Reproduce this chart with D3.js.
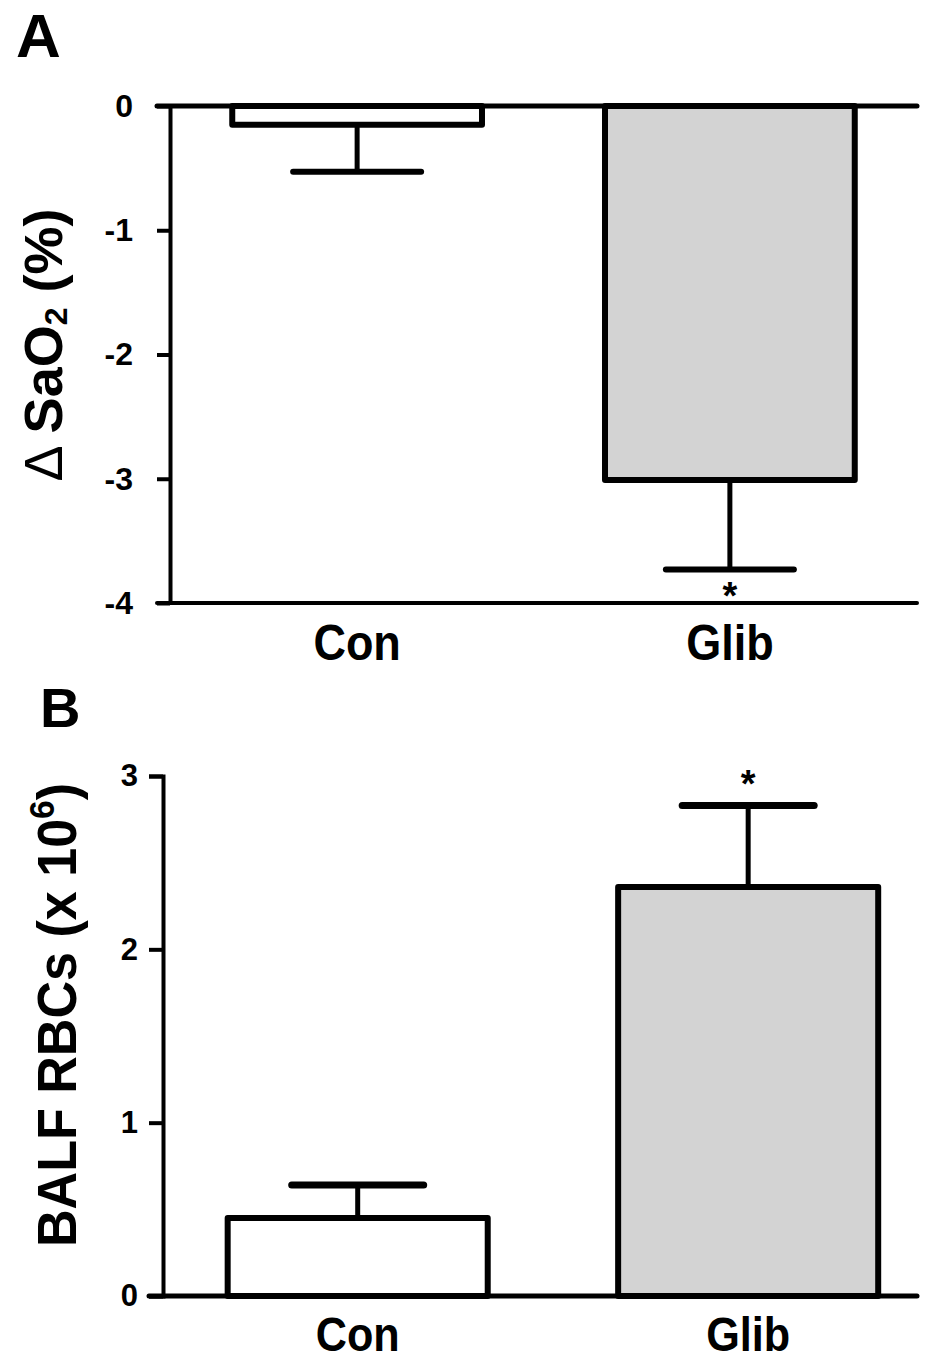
<!DOCTYPE html>
<html>
<head>
<meta charset="utf-8">
<script src="https://cdn.jsdelivr.net/npm/d3@7"></script>
<style>
  body { margin: 0; background: #fff; }
  text { font-family: "Liberation Sans", Arial, sans-serif; }
</style>
</head>
<body>
<svg id="chart" width="938" height="1361"></svg>
<script>
// data
const groups = ["Con", "Glib"];
const saO2Mean = [-0.15, -3.01];
const saO2Err = [0.38, 0.72];
const rbcMean = [0.45, 2.36];
const rbcErr = [0.19, 0.47];
const saO2Ticks = [0, -1, -2, -3, -4];
const rbcTicks = [0, 1, 2, 3];
const barFill = ["#ffffff", "#d3d3d3"];

const svg = d3.select("#chart");

// ---------- panel A ----------
const xA = d3.scaleBand().domain(groups).range([170, 917])
  .paddingInner(0.33).paddingOuter(0.167);
const yA = d3.scaleLinear().domain([-4, 0]).range([603, 106]);

const gA = svg.append("g");

gA.selectAll("rect.bar")
  .data(groups)
  .enter()
  .append("rect")
  .attr("class", "bar")
  .attr("x", d => xA(d))
  .attr("width", xA.bandwidth())
  .attr("y", yA(0))
  .attr("height", (d, i) => yA(saO2Mean[i]) - yA(0))
  .style("fill", (d, i) => barFill[i])
  .style("stroke", "#000")
  .style("stroke-width", 6)
  .style("stroke-linejoin", "round");

// error bars (downwards)
groups.forEach((g, i) => {
  const cx = xA(g) + xA.bandwidth() / 2;
  const lo = saO2Mean[i] - saO2Err[i];
  gA.append("line")
    .attr("x1", cx).attr("x2", cx)
    .attr("y1", yA(saO2Mean[i])).attr("y2", yA(lo))
    .style("stroke", "#000").style("stroke-width", 5);
  gA.append("line")
    .attr("x1", cx - 64).attr("x2", cx + 64)
    .attr("y1", yA(lo)).attr("y2", yA(lo))
    .style("stroke", "#000").style("stroke-width", 6)
    .style("stroke-linecap", "round");
});

// star under Glib
gA.append("text")
  .attr("x", xA("Glib") + xA.bandwidth() / 2)
  .attr("y", 609)
  .attr("text-anchor", "middle")
  .style("font-size", "38px")
  .style("font-weight", "bold")
  .text("*");

// y axis
const axA = gA.append("g")
  .attr("transform", "translate(170,0)")
  .attr("font-size", 32)
  .call(d3.axisLeft(yA).tickValues(saO2Ticks).tickSize(13).tickSizeOuter(0).tickPadding(24)
    .tickFormat(d3.format("d")));
axA.attr("font-size", null);
axA.select(".domain").style("stroke-width", 4);
axA.selectAll(".tick line").style("stroke-width", 4);
axA.selectAll(".tick text")
  .attr("font-size", 32)
  .style("font-size", "32px")
  .style("font-weight", "bold")
  .style("fill", "#000")
  .text(d => d === 0 ? "0" : "-" + Math.abs(d));

// horizontal lines at 0 and -4
gA.append("line")
  .attr("x1", 157).attr("x2", 917)
  .attr("y1", yA(0)).attr("y2", yA(0))
  .style("stroke", "#000").style("stroke-width", 5).style("stroke-linecap", "round");
gA.append("line")
  .attr("x1", 157).attr("x2", 917)
  .attr("y1", yA(-4)).attr("y2", yA(-4))
  .style("stroke", "#000").style("stroke-width", 4).style("stroke-linecap", "round");

// category labels
gA.selectAll("text.cat")
  .data(groups)
  .enter()
  .append("text")
  .attr("class", "cat")
  .attr("transform", d => `translate(${xA(d) + xA.bandwidth() / 2},660) scale(0.9,1)`)
  .attr("text-anchor", "middle")
  .style("font-size", "50px")
  .style("font-weight", "bold")
  .text(d => d);

// y label
const labA = gA.append("text")
  .attr("transform", "translate(62,345) rotate(-90)")
  .attr("text-anchor", "middle")
  .style("font-size", "54px")
  .style("font-weight", "bold");
labA.append("tspan").style("font-weight", "normal").text("\u0394 ");
labA.append("tspan").text("SaO");
labA.append("tspan").attr("dy", 5).style("font-size", "32px").text("2");
labA.append("tspan").attr("dy", -5).text(" (%)");

gA.append("text")
  .attr("x", 16).attr("y", 57)
  .style("font-size", "62px")
  .style("font-weight", "bold")
  .text("A");

// ---------- panel B ----------
const xB = d3.scaleBand().domain(groups).range([163, 917])
  .paddingInner(0.334).paddingOuter(0.1325).align(0.625);
const yB = d3.scaleLinear().domain([0, 3]).range([1296, 776]);

const gB = svg.append("g");

gB.selectAll("rect.bar")
  .data(groups)
  .enter()
  .append("rect")
  .attr("class", "bar")
  .attr("x", d => xB(d))
  .attr("width", xB.bandwidth())
  .attr("y", (d, i) => yB(rbcMean[i]))
  .attr("height", (d, i) => yB(0) - yB(rbcMean[i]))
  .style("fill", (d, i) => barFill[i])
  .style("stroke", "#000")
  .style("stroke-width", 6)
  .style("stroke-linejoin", "round");

groups.forEach((g, i) => {
  const cx = xB(g) + xB.bandwidth() / 2;
  const hi = rbcMean[i] + rbcErr[i];
  gB.append("line")
    .attr("x1", cx).attr("x2", cx)
    .attr("y1", yB(rbcMean[i])).attr("y2", yB(hi))
    .style("stroke", "#000").style("stroke-width", 5);
  gB.append("line")
    .attr("x1", cx - 66).attr("x2", cx + 66)
    .attr("y1", yB(hi)).attr("y2", yB(hi))
    .style("stroke", "#000").style("stroke-width", 7)
    .style("stroke-linecap", "round");
});

gB.append("text")
  .attr("x", xB("Glib") + xB.bandwidth() / 2)
  .attr("y", 797)
  .attr("text-anchor", "middle")
  .style("font-size", "38px")
  .style("font-weight", "bold")
  .text("*");

const axB = gB.append("g")
  .attr("transform", "translate(163,0)")
  .call(d3.axisLeft(yB).tickValues(rbcTicks).tickSize(14).tickSizeOuter(14).tickPadding(11)
    .tickFormat(d3.format("d")));
axB.attr("font-size", null);
axB.select(".domain").style("stroke-width", 4);
axB.selectAll(".tick line").style("stroke-width", 4);
axB.selectAll(".tick text")
  .attr("font-size", 31)
  .style("font-size", "31px")
  .style("font-weight", "bold")
  .style("fill", "#000");

gB.append("line")
  .attr("x1", 149).attr("x2", 917)
  .attr("y1", yB(0)).attr("y2", yB(0))
  .style("stroke", "#000").style("stroke-width", 5).style("stroke-linecap", "round");

gB.selectAll("text.cat")
  .data(groups)
  .enter()
  .append("text")
  .attr("class", "cat")
  .attr("transform", d => `translate(${xB(d) + xB.bandwidth() / 2},1351) scale(0.9,1)`)
  .attr("text-anchor", "middle")
  .style("font-size", "48px")
  .style("font-weight", "bold")
  .text(d => d);

const labB = gB.append("text")
  .attr("transform", "translate(76,1015) rotate(-90) scale(0.93,1)")
  .attr("text-anchor", "middle")
  .style("font-size", "56px")
  .style("font-weight", "bold");
labB.append("tspan").text("BALF RBCs (x 10");
labB.append("tspan").attr("dy", -22).style("font-size", "36px").text("6");
labB.append("tspan").attr("dy", 22).text(")");

gB.append("text")
  .attr("x", 40).attr("y", 727)
  .style("font-size", "56px")
  .style("font-weight", "bold")
  .text("B");
</script>
</body>
</html>
